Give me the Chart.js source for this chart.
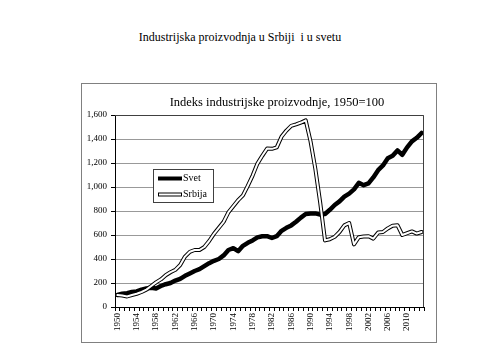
<!DOCTYPE html>
<html>
<head>
<meta charset="utf-8">
<script src="https://cdn.jsdelivr.net/npm/chart.js@4.4.0/dist/chart.umd.min.js"></script>
<style>
    body { margin: 0; background: #fff; width: 480px; height: 360px; position: relative; overflow: hidden; }
    .page-title { position: absolute; left: 0; width: 480px; top: 30px; text-align: center;
        font-family: 'Liberation Serif', serif; font-size: 12px; color: #000; }
    .chart-box { position: absolute; left: 81px; top: 83px; width: 356px; height: 260px;
        box-sizing: border-box; border: 1px solid #808080; }
    .chart-title { position: absolute; left: 81px; width: 392px; top: 95px; text-align: center;
        font-family: 'Liberation Serif', serif; font-size: 12.5px; color: #000; }
</style>
</head>
<body>
<div class="page-title">Industrijska proizvodnja u Srbiji &nbsp;i u svetu</div>
<div class="chart-box"><canvas id="chart" width="354" height="258"></canvas></div>
<div class="chart-title">Indeks industrijske proizvodnje, 1950=100</div>
<script>
(function() {
    'use strict';

    var years = [
        '1950', '1951', '1952', '1953', '1954', '1955', '1956', '1957', '1958', '1959',
        '1960', '1961', '1962', '1963', '1964', '1965', '1966', '1967', '1968', '1969',
        '1970', '1971', '1972', '1973', '1974', '1975', '1976', '1977', '1978', '1979',
        '1980', '1981', '1982', '1983', '1984', '1985', '1986', '1987', '1988', '1989',
        '1990', '1991', '1992', '1993', '1994', '1995', '1996', '1997', '1998', '1999',
        '2000', '2001', '2002', '2003', '2004', '2005', '2006', '2007', '2008', '2009',
        '2010', '2011', '2012', '2013'
    ];

    var svet = [
        100, 110, 115, 125, 130, 145, 155, 160, 155, 175,
        190, 200, 220, 235, 260, 280, 300, 315, 340, 365,
        385, 400, 430, 475, 490, 465, 510, 535, 555, 580,
        590, 590, 575, 590, 635, 660, 680, 710, 745, 775,
        780, 780, 770, 775, 810, 850, 880, 920, 945, 980,
        1035, 1015, 1030, 1080, 1140, 1180, 1240, 1260, 1305, 1268,
        1330, 1380, 1410, 1450
    ];

    var srbija = [
        100, 95, 88, 100, 110, 125, 145, 175, 205, 230,
        265, 290, 310, 350, 420, 460, 475, 475, 500, 550,
        610, 660, 710, 790, 840, 890, 930, 1010, 1095, 1195,
        1260, 1320, 1318, 1330, 1420, 1470, 1510, 1522, 1537, 1555,
        1380, 1150, 870, 555, 565, 585, 625, 680, 700, 522,
        582, 588, 590, 570, 620, 625, 655, 678, 682, 600,
        615, 630, 612, 625
    ];

    var yTicks = [0, 200, 400, 600, 800, 1000, 1200, 1400, 1600];

    var serif = "'Liberation Serif', 'Times New Roman', serif";

    // legend box inside the plot + top/right frame of the plot area
    var extras = {
        id: 'extras',
        afterDraw: function(chart) {
            var ctx = chart.ctx;
            var a = chart.chartArea;
            ctx.save();
            ctx.strokeStyle = '#404040';
            ctx.lineWidth = 1;
            ctx.beginPath();
            ctx.moveTo(a.left, a.top + 0.5);
            ctx.lineTo(a.right - 0.5, a.top + 0.5);
            ctx.lineTo(a.right - 0.5, a.bottom);
            ctx.stroke();

            var bx = 71, by = 85, bw = 60, bh = 33;
            ctx.fillStyle = '#fff';
            ctx.fillRect(bx, by, bw, bh);
            ctx.strokeStyle = '#404040';
            ctx.strokeRect(bx + 0.5, by + 0.5, bw, bh);

            ctx.lineCap = 'butt';
            ctx.strokeStyle = '#000';
            ctx.lineWidth = 4;
            ctx.beginPath();
            ctx.moveTo(bx + 5, by + 9.5);
            ctx.lineTo(bx + 29, by + 9.5);
            ctx.stroke();

            ctx.lineWidth = 4;
            ctx.beginPath();
            ctx.moveTo(bx + 5, by + 25.5);
            ctx.lineTo(bx + 29, by + 25.5);
            ctx.stroke();
            ctx.strokeStyle = '#fff';
            ctx.lineWidth = 2;
            ctx.beginPath();
            ctx.moveTo(bx + 6, by + 25.5);
            ctx.lineTo(bx + 28, by + 25.5);
            ctx.stroke();

            ctx.fillStyle = '#000';
            ctx.font = '10px ' + serif;
            ctx.textBaseline = 'middle';
            ctx.textAlign = 'left';
            ctx.fillText('Svet', bx + 30, by + 9.5);
            ctx.fillText('Srbija', bx + 30, by + 25.5);
            ctx.restore();
        }
    };

    function initChart() {
        var canvas = document.getElementById('chart');
        new Chart(canvas.getContext('2d'), {
            type: 'line',
            data: {
                labels: years,
                datasets: [{
                    label: 'Srbija',
                    data: srbija,
                    borderColor: '#fff',
                    borderWidth: 2,
                    order: 0
                }, {
                    label: 'Srbija outline',
                    data: srbija,
                    borderColor: '#000',
                    borderWidth: 4,
                    order: 1
                }, {
                    label: 'Svet',
                    data: svet,
                    borderColor: '#000',
                    borderWidth: 4.5,
                    order: 2
                }]
            },
            options: {
                responsive: false,
                animation: false,
                devicePixelRatio: 1,
                layout: { padding: { top: 31, right: 12, left: 0, bottom: 0 } },
                elements: {
                    point: { radius: 0 },
                    line: { tension: 0, borderJoinStyle: 'round', borderCapStyle: 'round' }
                },
                plugins: {
                    legend: { display: false },
                    title: { display: false },
                    tooltip: { enabled: false }
                },
                scales: {
                    x: {
                        offset: true,
                        afterFit: function(scale) { scale.height = 35; },
                        grid: {
                            offset: true,
                            drawOnChartArea: false,
                            tickLength: 4,
                            tickColor: '#000'
                        },
                        border: { color: '#000', width: 1 },
                        ticks: {
                            autoSkip: false,
                            minRotation: 90,
                            maxRotation: 90,
                            padding: 2,
                            color: '#000',
                            font: { family: serif, size: 9 },
                            callback: function(value, index) {
                                return index % 4 === 0 ? years[index] : '';
                            }
                        }
                    },
                    y: {
                        min: 0,
                        max: 1600,
                        afterFit: function(scale) { scale.width = 33; },
                        afterBuildTicks: function(scale) {
                            scale.ticks = yTicks.map(function(v) { return { value: v }; });
                        },
                        grid: {
                            color: '#999',
                            lineWidth: 1,
                            tickLength: 4,
                            tickColor: '#000'
                        },
                        border: { color: '#000', width: 1 },
                        ticks: {
                            padding: 4,
                            color: '#000',
                            font: { family: serif, size: 9 },
                            callback: function(value) { return value.toLocaleString('en-US'); }
                        }
                    }
                }
            },
            plugins: [extras]
        });
    }

    initChart();
})();
</script>
</body>
</html>
